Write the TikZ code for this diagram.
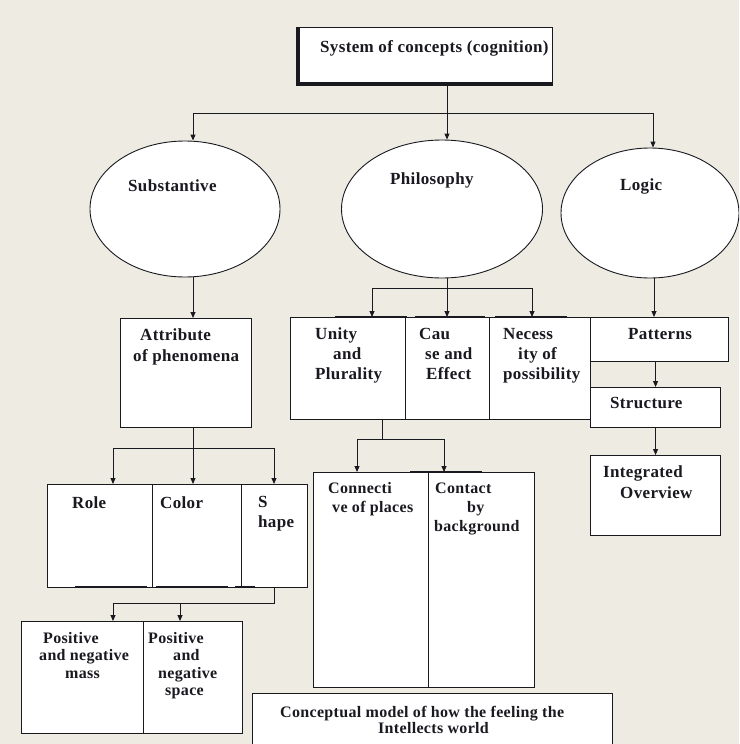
\documentclass[tikz,border=0pt]{standalone}
\usepackage{fontspec}
\setmainfont{Liberation Serif}[LetterSpace=2]
\usetikzlibrary{shapes.geometric,arrows.meta}
\definecolor{bg}{RGB}{238,236,226}
\definecolor{ink}{RGB}{25,25,32}
\begin{document}
\begin{tikzpicture}[x=1pt,y=-1pt,
  box/.style={draw=ink, line width=1.1pt, fill=white, inner sep=0pt, anchor=north west},
  oval/.style={ellipse, draw=ink, line width=0.9pt, fill=white, inner sep=0pt},
  lbl/.style={anchor=north west, inner sep=0pt, align=left, text=ink,
    font=\bfseries\fontsize{17}{20}\selectfont},
  lbls/.style={lbl, font=\bfseries\fontsize{16}{17.5}\selectfont},
  conn/.style={draw=ink, line width=0.9pt},
  arr/.style={conn, -{Triangle[length=6pt,width=5pt]}},
  bar/.style={draw=ink, line width=2.6pt}]
\useasboundingbox (0,0) rectangle (739,744);
\fill[bg] (0,0) rectangle (739,744);
\clip (0,0) rectangle (739,744);

% boxes
\node[box, minimum width=254pt, minimum height=56pt] (title) at (298,27) {};
\node[oval, minimum width=190pt, minimum height=136pt] (subst) at (185,209) {};
\node[oval, minimum width=201pt, minimum height=138pt] (phil) at (442,209) {};
\node[oval, minimum width=178pt, minimum height=130pt] (logic) at (650,213) {};
\node[box, minimum width=131pt, minimum height=109pt] (attr) at (120,318) {};
\node[box, minimum width=115pt, minimum height=102pt] (unity) at (290,317) {};
\node[box, minimum width=84pt, minimum height=102pt] (cause) at (405,317) {};
\node[box, minimum width=101pt, minimum height=102pt] (nec) at (489,317) {};
\node[box, minimum width=138pt, minimum height=44pt] (pat) at (590,317) {};
\node[box, minimum width=130pt, minimum height=40pt] (str) at (590,387) {};
\node[box, minimum width=130pt, minimum height=80pt] (intg) at (590,455) {};
\node[box, minimum width=105pt, minimum height=103pt] (role) at (47,484) {};
\node[box, minimum width=89pt, minimum height=103pt] (color) at (152,484) {};
\node[box, minimum width=66pt, minimum height=103pt] (shape) at (241,484) {};
\node[box, minimum width=122pt, minimum height=112pt] (pos1) at (21,621) {};
\node[box, minimum width=99pt, minimum height=112pt] (pos2) at (143,621) {};
\node[box, minimum width=115pt, minimum height=215pt] (conn) at (313,472) {};
\node[box, minimum width=106pt, minimum height=215pt] (cont) at (428,472) {};
\node[box, minimum width=360pt, minimum height=70pt] (conc) at (252,693) {};

% decorative thick edges
\draw[draw=ink, line width=3.5pt] (title.north west) -- (title.south west) -- (title.south east);
\draw[bar] (335,317) -- (407,317);
\draw[bar] (415,317) -- (485,317);
\draw[bar] (495,317) -- (567,317);
\draw[bar] (75,587) -- (147,587);
\draw[bar] (156,587) -- (228,587);
\draw[bar] (235,587) -- (255,587);
\draw[bar] (410,472) -- (482,472);

% labels
\node[lbl] (ttitle) at (320,40) {\rule{0pt}{12pt}System of concepts (cognition)};
\node[lbl] (tsub) at (128,179) {\rule{0pt}{12pt}Substantive};
\node[lbl] (tphil) at (390,172) {\rule{0pt}{12pt}Philosophy};
\node[lbl] (tlog) at (620,178) {\rule{0pt}{12pt}Logic};
\node[lbl] (tattr) at (133,328) {\rule{0pt}{12pt}\hspace*{7pt}Attribute\\[1pt]of phenomena};
\node[lbl] (tunity) at (315,327) {\rule{0pt}{12pt}Unity\\\hspace*{18pt}and\\Plurality};
\node[lbl] (tcause) at (419,327) {\rule{0pt}{12pt}Cau\\\hspace*{6pt}se and\\\hspace*{7pt}Effect};
\node[lbl] (tnec) at (503,327) {\rule{0pt}{12pt}Necess\\\hspace*{15pt}ity of\\possibility};
\node[lbl] (tpat) at (628,327) {\rule{0pt}{12pt}Patterns};
\node[lbl] (tstr) at (610,396) {\rule{0pt}{12pt}Structure};
\node[lbl] (tint) at (603,465) {\rule{0pt}{12pt}Integrated\\[1pt]\hspace*{17pt}Overview};
\node[lbl] (trole) at (72,496) {\rule{0pt}{12pt}Role};
\node[lbl] (tcolor) at (160,496) {\rule{0pt}{12pt}Color};
\node[lbl] (tshape) at (258,495) {\rule{0pt}{12pt}S\\hape};
\node[lbls] (tpos1) at (39,631) {\rule{0pt}{12pt}\hspace*{4pt}Positive\\and negative\\\hspace*{26pt}mass};
\node[lbls] (tpos2) at (148,631) {\rule{0pt}{12pt}Positive\\\hspace*{25pt}and\\\hspace*{10pt}negative\\\hspace*{17pt}space};
\node[lbls] (tconn) at (328,481) {\rule{0pt}{12pt}Connecti\\[1.5pt]\hspace*{4pt}ve of places};
\node[lbls] (tcont) at (434,481) {\rule{0pt}{12pt}\hspace*{1pt}Contact\\[1.5pt]\hspace*{33pt}by\\[1.5pt]background};
\node[lbls, font=\bfseries\fontsize{16}{16}\selectfont] (tconc) at (280,705) {\rule{0pt}{12pt}Conceptual model of how the feeling the\\\hspace*{98pt}Intellects world};

% connectors
\coordinate (b1) at (447,113);
\draw[conn] (title.south -| b1) -- (b1);
\draw[arr] (b1) -| ([xshift=8pt]subst.north);
\draw[arr] (b1) -- (phil.north -| b1);
\draw[arr] (b1) -| ([xshift=3pt]logic.north);

\draw[arr] ([xshift=8pt]subst.south) -- ([xshift=8pt]subst.south |- attr.north);

\coordinate (b2) at (447,288);
\coordinate (b2l) at (372,288);
\coordinate (b2r) at (532,288);
\draw[conn] (phil.south -| b2) -- (b2);
\draw[conn] (b2l) -- (b2r);
\draw[arr] (b2l) -- (b2l |- unity.north);
\draw[arr] (b2) -- (b2 |- cause.north);
\draw[arr] (b2r) -- (b2r |- nec.north);

\draw[arr] ([xshift=4pt]logic.south) -- ([xshift=4pt]logic.south |- pat.north);
\draw[arr] (pat.south -| str.north) -- (str.north);
\draw[arr] (str.south) -- (intg.north);

\coordinate (b3) at (193,448);
\coordinate (b3l) at (113,448);
\coordinate (b3r) at (274,448);
\draw[conn] (attr.south -| b3) -- (b3);
\draw[conn] (b3l) -- (b3r);
\draw[arr] (b3l) -- (b3l |- role.north);
\draw[arr] (b3) -- (b3 |- color.north);
\draw[arr] (b3r) -- (b3r |- shape.north);

\coordinate (b4r) at (274,603);
\coordinate (b4l) at (113,603);
\coordinate (b4m) at (180,603);
\draw[conn] (shape.south -| b4r) -- (b4r) -- (b4l);
\draw[arr] (b4l) -- (b4l |- pos1.north);
\draw[arr] (b4m) -- (b4m |- pos2.north);

\coordinate (b5) at (382,439);
\coordinate (b5l) at (357,439);
\coordinate (b5r) at (444,439);
\draw[conn] (unity.south -| b5) -- (b5);
\draw[conn] (b5l) -- (b5r);
\draw[arr] (b5l) -- (b5l |- conn.north);
\draw[arr] (b5r) -- (b5r |- cont.north);
\end{tikzpicture}
\end{document}
